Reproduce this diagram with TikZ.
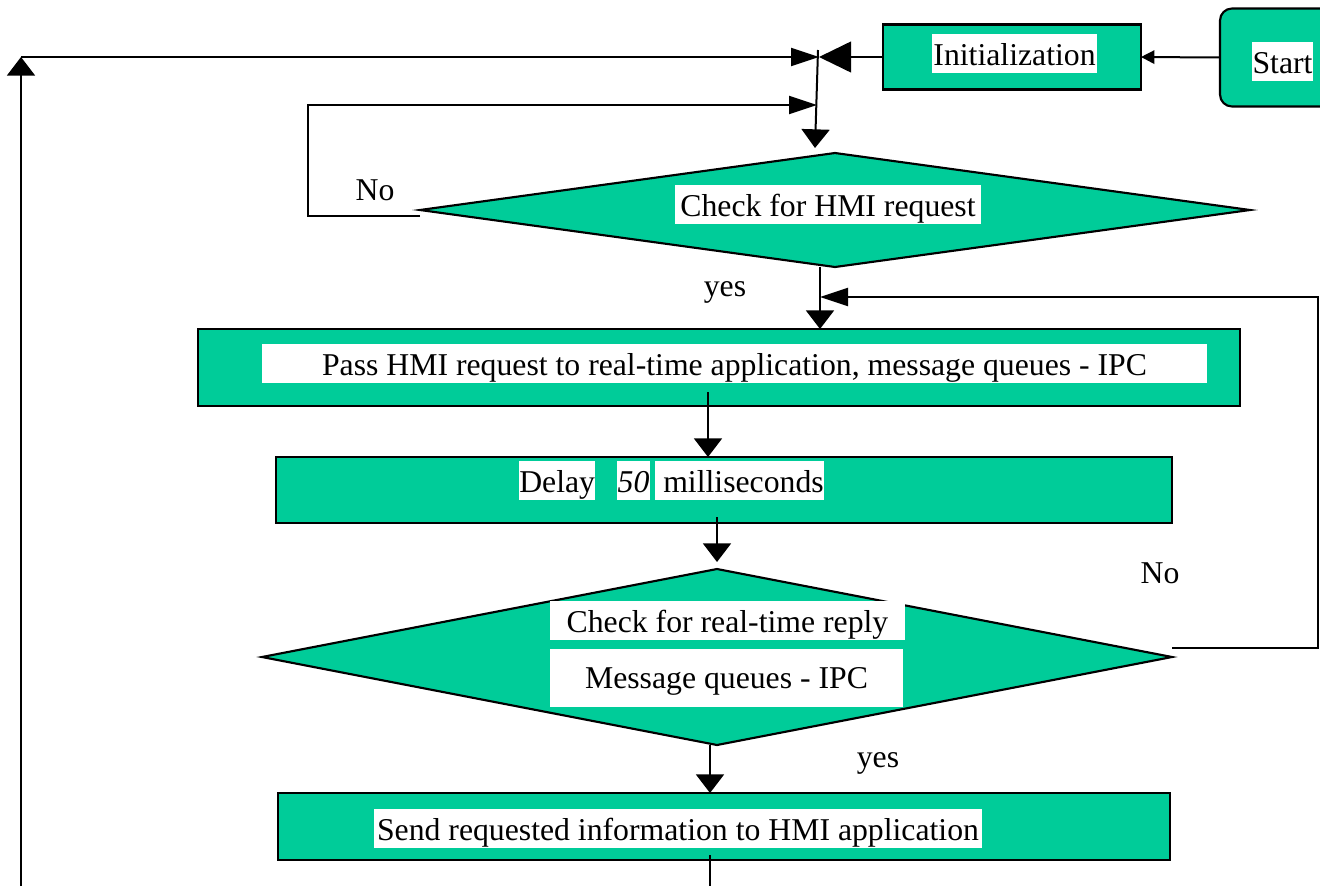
\documentclass[tikz,border=0pt]{standalone}
\usepackage{fontspec}
\setmainfont{Liberation Serif}
\usetikzlibrary{arrows.meta,shapes.geometric}
\definecolor{flowgreen}{RGB}{0,204,153}
\begin{document}
\begin{tikzpicture}[x=0.75pt,y=-0.75pt,
  font=\fontsize{23.8pt}{28pt}\selectfont,
  procbox/.style={draw, line width=2.2pt, fill=flowgreen, inner sep=0pt, outer sep=0pt},
  startbox/.style={draw, line width=1.6pt, fill=flowgreen, rounded corners=9pt, inner sep=0pt, outer sep=0pt},
  decision/.style={diamond, draw, line width=1.6pt, fill=flowgreen, inner sep=0pt, outer sep=0pt},
  hilite/.style={fill=white, inner xsep=0pt, inner ysep=0pt, text height=23pt, text depth=6pt, anchor=base},
  plain/.style={inner sep=0pt, anchor=base},
  link/.style={line width=1.5pt},
  vtip/.style={link, -{Triangle[length=14pt,width=21pt]}},
  htip/.style={link, -{Triangle[length=21pt,width=13.5pt]}},
  bigtip/.style={link, -{Triangle[length=24pt,width=23pt]}},
  smalltip/.style={link, -{Triangle[length=10pt,width=10pt]}}]
\useasboundingbox (0,0) rectangle (1320,886);

% process boxes and decisions
\node[startbox, minimum width=180*0.75pt, minimum height=98*0.75pt] (start) at (1310,57.5) {};
\node[procbox, minimum width=258*0.75pt, minimum height=65*0.75pt] (init) at (1012,57) {};
\node[decision, minimum width=830*0.75pt, minimum height=114*0.75pt] (chk1) at (835,210) {};
\node[procbox, minimum width=1042*0.75pt, minimum height=77*0.75pt] (pass) at (719,367.5) {};
\node[procbox, minimum width=896*0.75pt, minimum height=66*0.75pt] (delay) at (724,490) {};
\node[decision, minimum width=910*0.75pt, minimum height=176*0.75pt] (chk2) at (717,657) {};
\node[procbox, minimum width=892*0.75pt, minimum height=67*0.75pt] (send) at (724,826.5) {};

% highlighted labels
\node[hilite, minimum width=61*0.75pt] (tstart) at (1282.5,73) {Start};
\node[hilite, minimum width=165*0.75pt] (tinit) at (1014.5,65) {Initialization};
\node[hilite, minimum width=306*0.75pt] (tchk1) at (828,216) {Check for HMI request};
\node[hilite, minimum width=945*0.75pt] (tpass) at (734.5,375) {Pass HMI request to real-time application, message queues - IPC};
\node[hilite, anchor=base west] (tdelay) at (519,492) {Delay\hspace{6.5pt}};
\node[hilite, minimum width=33*0.75pt] (tfifty) at (633.5,492) {\itshape 50};
\node[hilite, anchor=base west] (tms) at (655,492) {\hspace{6pt}milliseconds};
\node[hilite, minimum width=355*0.75pt] (tchk2a) at (727.5,632) {Check for real-time reply};
\node[hilite, minimum width=353*0.75pt, text height=29.25pt, text depth=14.25pt] (tchk2b) at (726.5,688) {Message queues - IPC};
\node[hilite, minimum width=608*0.75pt] (tsend) at (678,840) {Send requested information to HMI application};

% branch labels
\node[plain] (lno1) at (375,200) {No};
\node[plain] (lyes1) at (725,296) {yes};
\node[plain] (lno2) at (1160,583) {No};
\node[plain] (lyes2) at (878,767) {yes};

% connector points
\coordinate (junction) at (819,57);
\coordinate (junctop) at (818,50);
\coordinate (loopbot) at (21,886);
\coordinate (loopcorner) at (21,57);
\coordinate (hmitop) at (815,148);
\coordinate (noA) at (420,216);
\coordinate (noAcorner) at (308,105);
\coordinate (merge) at (817,105);
\coordinate (yesA) at (820,267);
\coordinate (noB) at (1172,648);
\coordinate (noBcorner) at (1318,297);
\coordinate (rejoin) at (820,297);
\coordinate (passout) at (708,392);
\coordinate (delayout) at (717,517);
\coordinate (chk2in) at (717,562);
\coordinate (chk2out) at (710,745);
\coordinate (sendout) at (710,855);
\coordinate (sendexit) at (710,886);

% connectors
\draw[smalltip] (start.west) -- (init.east);
\draw[bigtip] (init.west) -- (junction);
\draw[vtip] (loopbot) -- (loopcorner);
\draw[htip] (loopcorner) -- (junction);
\draw[vtip] (junctop) -- (hmitop);
\draw[htip] (noA) -| (noAcorner) -- (merge);
\draw[vtip] (yesA) -- (yesA |- pass.north);
\draw[htip] (noB) -| (noBcorner) -- (rejoin);
\draw[vtip] (passout) -- (passout |- delay.north);
\draw[vtip] (delayout) -- (chk2in);
\draw[vtip] (chk2out) -- (chk2out |- send.north);
\draw[link] (sendout) -- (sendexit);
\end{tikzpicture}
\end{document}
